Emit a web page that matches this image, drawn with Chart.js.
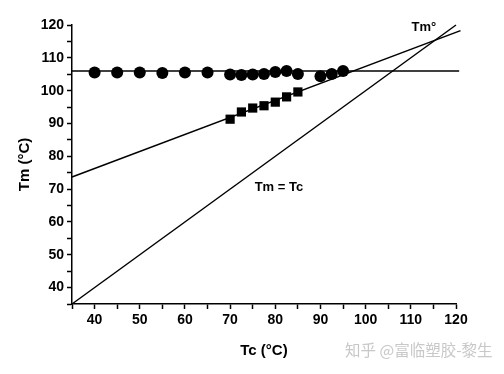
<!DOCTYPE html>
<html>
<head>
<meta charset="utf-8">
<script src="https://cdn.jsdelivr.net/npm/chart.js@4"></script>
<style>
  html, body { margin: 0; padding: 0; background: #fff; }
  #wrap { position: relative; width: 504px; height: 374px; }
  #watermark {
    position: absolute; left: 345px; top: 338px;
    font: 15.5px "Noto Sans CJK SC", sans-serif; color: #c8c8c8;
  }
</style>
</head>
<body>
<div id="wrap">
  <canvas id="chart" width="504" height="374"></canvas>
  <div id="watermark">知乎 @富临塑胶-黎生</div>
</div>
<script>
// Tc values (x) and measured Tm values
const circleTc = [40, 45, 50, 55, 60, 65, 70, 72.5, 75, 77.5, 80, 82.5, 85, 90, 92.5, 95];
const circleTm = [105.5, 105.5, 105.5, 105.4, 105.5, 105.5, 104.9, 104.8, 104.9, 105.1, 105.7, 106.0, 105.1, 104.4, 105.1, 106.0];

const squareTc = [70, 72.5, 75, 77.5, 80, 82.5, 85];
const squareTm = [91.3, 93.5, 94.7, 95.4, 96.5, 98.1, 99.6];

// fitted lines (end points)
const fitTc = [35, 121];
const fitTm = [73.7, 118.3];
const equalTc = [35, 120];
const equalTm = [35, 120];
const flatTc = [35, 120.7];
const flatTm = [106, 106];

const toPoints = (xs, ys) => xs.map((x, i) => ({ x: x, y: ys[i] }));

const font = 'Liberation Sans, Arial, sans-serif';

// text labels placed in data units
const notes = [
  { text: 'Tm°', x: 112.9, y: 119.4 },
  { text: 'Tm = Tc', x: 80.8, y: 70.5 }
];

const notePlugin = {
  id: 'notes',
  afterDatasetsDraw(chart) {
    const ctx = chart.ctx;
    const xs = chart.scales.x, ys = chart.scales.y;
    ctx.save();
    ctx.fillStyle = '#000';
    ctx.font = 'bold 13px ' + font;
    ctx.textAlign = 'center';
    ctx.textBaseline = 'middle';
    notes.forEach(n => {
      ctx.fillText(n.text, xs.getPixelForValue(n.x), ys.getPixelForValue(n.y));
    });
    ctx.restore();
  }
};

const lineStyle = {
  showLine: true,
  borderColor: '#000',
  borderWidth: 1.5,
  pointRadius: 0,
  fill: false,
  clip: false
};

const tickCb = v => (v % 10 === 0 ? v : '');

new Chart(document.getElementById('chart').getContext('2d'), {
  type: 'scatter',
  data: {
    datasets: [
      Object.assign({ data: toPoints(flatTc, flatTm) }, lineStyle),
      Object.assign({ data: toPoints(fitTc, fitTm) }, lineStyle),
      Object.assign({ data: toPoints(equalTc, equalTm) }, lineStyle),
      {
        data: toPoints(circleTc, circleTm),
        pointStyle: 'circle',
        pointRadius: 6,
        backgroundColor: '#000',
        borderColor: '#000',
        borderWidth: 0
      },
      {
        data: toPoints(squareTc, squareTm),
        pointStyle: 'rect',
        pointRadius: 6.5,
        backgroundColor: '#000',
        borderColor: '#000',
        borderWidth: 0
      }
    ]
  },
  options: {
    responsive: false,
    animation: false,
    events: [],
    layout: { padding: { top: 25, right: 48, left: 0, bottom: 0 } },
    plugins: { legend: { display: false }, tooltip: { enabled: false } },
    scales: {
      x: {
        type: 'linear',
        min: 35,
        max: 120,
        afterFit: s => { s.height = 70; },
        border: { display: true, color: '#000', width: 1.5 },
        grid: { drawOnChartArea: false, drawTicks: true, tickLength: 5, color: '#000', tickWidth: 1.5 },
        ticks: {
          stepSize: 5,
          autoSkip: false,
          maxRotation: 0,
          padding: 3,
          color: '#000',
          font: { family: font, size: 14, weight: 'bold' },
          callback: tickCb
        },
        title: {
          display: true,
          text: 'Tc (°C)',
          color: '#000',
          font: { family: font, size: 15, weight: 'bold' },
          padding: { top: 4, bottom: 14 }
        }
      },
      y: {
        type: 'linear',
        min: 35,
        max: 120,
        afterFit: s => { s.width = 72; },
        border: { display: true, color: '#000', width: 1.5 },
        grid: { drawOnChartArea: false, drawTicks: true, tickLength: 5, color: '#000', tickWidth: 1.5 },
        ticks: {
          stepSize: 5,
          autoSkip: false,
          padding: 3,
          color: '#000',
          font: { family: font, size: 14, weight: 'bold' },
          callback: tickCb
        },
        title: {
          display: true,
          text: 'Tm (°C)',
          color: '#000',
          font: { family: font, size: 15, weight: 'bold' },
          padding: { top: 16 }
        }
      }
    }
  },
  plugins: [notePlugin]
});
</script>
</body>
</html>
